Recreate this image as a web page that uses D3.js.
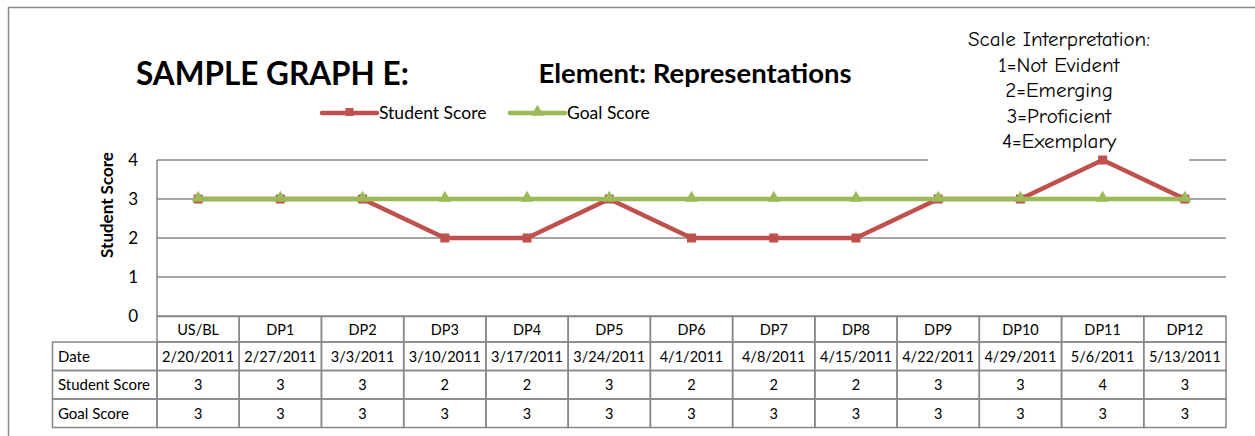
<!DOCTYPE html>
<html>
<head>
<meta charset="utf-8">
<script src="https://cdn.jsdelivr.net/npm/d3@7"></script>
<style>
  body { margin: 0; background: #fff; }
  svg { display: block; font-family: Lato, "Open Sans", sans-serif; }
</style>
</head>
<body>
<script>
// chart data
var categories = ["US/BL", "DP1", "DP2", "DP3", "DP4", "DP5", "DP6", "DP7", "DP8", "DP9", "DP10", "DP11", "DP12"];
var dates = ["2/20/2011", "2/27/2011", "3/3/2011", "3/10/2011", "3/17/2011", "3/24/2011", "4/1/2011",
             "4/8/2011", "4/15/2011", "4/22/2011", "4/29/2011", "5/6/2011", "5/13/2011"];
var studentScore = [3, 3, 3, 2, 2, 3, 2, 2, 2, 3, 3, 4, 3];
var goalScore = [3, 3, 3, 3, 3, 3, 3, 3, 3, 3, 3, 3, 3];
var yTicks = [0, 1, 2, 3, 4];
var scaleLines = ["Scale Interpretation:", "1=Not Evident", "2=Emerging", "3=Proficient", "4=Exemplary"];

var svgWidth = 1255, svgHeight = 436;
var red = "#C0504D", green = "#9BBB59", grid = "#878787";

var svg = d3.select("body").append("svg").attr("width", svgWidth).attr("height", svgHeight);

// outer frame (left + top edges only visible)
svg.append("path")
    .attr("d", "M8.5," + svgHeight + "V7.5H" + svgWidth)
    .attr("fill", "none").attr("stroke", "#8a8a8a").attr("stroke-width", 1.5);

// scales
var x = d3.scaleBand().domain(categories).range([157, 1226]);
var y = d3.scaleLinear().domain([0, 4]).range([316, 160]);

// gridlines
svg.append("g").selectAll("line")
    .data(yTicks)
  .enter().append("line")
    .attr("x1", 157).attr("x2", 1226)
    .attr("y1", function(d) { return y(d); })
    .attr("y2", function(d) { return y(d); })
    .attr("stroke", grid).attr("stroke-width", 1.5);

// y axis line
svg.append("line")
    .attr("x1", 157).attr("x2", 157).attr("y1", 160).attr("y2", 316)
    .attr("stroke", grid).attr("stroke-width", 1.5);

// y tick labels
var yAxis = d3.axisLeft(y).tickValues(yTicks).tickFormat(d3.format("d")).tickSize(0).tickPadding(19);
var yg = svg.append("g").attr("transform", "translate(157,0)").call(yAxis);
yg.select(".domain").remove();
yg.selectAll("text").attr("font-family", "Lato, sans-serif").attr("font-size", "17px").attr("fill", "#000");

// y axis title
svg.append("text")
    .attr("transform", "translate(113,205)rotate(-90)")
    .attr("text-anchor", "middle")
    .attr("font-size", "17px").attr("font-weight", "bold")
    .text("Student Score");

// scale interpretation box (sits over the top gridline)
svg.append("rect")
    .attr("x", 928).attr("y", 24).attr("width", 261).attr("height", 137)
    .attr("fill", "#fff");
svg.append("g").selectAll("text")
    .data(scaleLines)
  .enter().append("text")
    .attr("x", 1059)
    .attr("y", function(d, i) { return 46 + i * 25.5; })
    .attr("text-anchor", "middle")
    .attr("font-family", "'Comic Sans MS', 'Comic Neue', 'DejaVu Sans', sans-serif")
    .attr("font-size", "21px")
    .text(function(d) { return d; });

// series
var cx = function(d, i) { return x(categories[i]) + x.bandwidth() / 2; };
var line = d3.line().x(cx).y(function(d) { return y(d); });

svg.append("path").datum(studentScore)
    .attr("d", line).attr("fill", "none")
    .attr("stroke", red).attr("stroke-width", 4.5).attr("stroke-linejoin", "round");
svg.append("g").selectAll("rect")
    .data(studentScore)
  .enter().append("rect")
    .attr("x", function(d, i) { return cx(d, i) - 4.5; })
    .attr("y", function(d) { return y(d) - 4.5; })
    .attr("width", 9).attr("height", 9)
    .attr("fill", red);

svg.append("path").datum(goalScore)
    .attr("d", line).attr("fill", "none")
    .attr("stroke", green).attr("stroke-width", 4.5);
var tri = d3.symbol().type(d3.symbolTriangle).size(70);
svg.append("g").selectAll("path")
    .data(goalScore)
  .enter().append("path")
    .attr("d", tri)
    .attr("transform", function(d, i) { return "translate(" + cx(d, i) + "," + (y(d) - 1) + ")"; })
    .attr("fill", green);

// titles
svg.append("text")
    .attr("x", 136).attr("y", 85)
    .attr("font-size", "31.5px").attr("font-weight", "bold")
    .text("SAMPLE GRAPH E:");
svg.append("text")
    .attr("x", 695).attr("y", 83)
    .attr("text-anchor", "middle")
    .attr("font-size", "27.5px").attr("font-weight", "bold")
    .text("Element: Representations");

// legend
var legend = [
  {name: "Student Score", color: red, x0: 322, marker: "square"},
  {name: "Goal Score", color: green, x0: 510, marker: "triangle"}
];
var lg = svg.append("g").selectAll("g").data(legend).enter().append("g");
lg.append("line")
    .attr("x1", function(d) { return d.x0; })
    .attr("x2", function(d) { return d.x0 + 55; })
    .attr("y1", 113).attr("y2", 113)
    .attr("stroke", function(d) { return d.color; })
    .attr("stroke-width", 4.5).attr("stroke-linecap", "round");
lg.append("path")
    .attr("d", function(d) {
      return d.marker === "square" ? d3.symbol().type(d3.symbolSquare).size(64)() : tri();
    })
    .attr("transform", function(d) { return "translate(" + (d.x0 + 27.5) + ",112)"; })
    .attr("fill", function(d) { return d.color; });
lg.append("text")
    .attr("x", function(d) { return d.x0 + 57; })
    .attr("y", 119)
    .attr("font-size", "17.5px")
    .text(function(d) { return d.name; });

// data table
var rowTop = [316.5, 342, 370.5, 399, 427.5];
var rows = [
  {label: "", values: categories},
  {label: "Date", values: dates},
  {label: "Student Score", values: studentScore},
  {label: "Goal Score", values: goalScore}
];
var tbl = svg.append("g");
rows.forEach(function(r, ri) {
  var top = rowTop[ri], bot = rowTop[ri + 1];
  var mid = (top + bot) / 2;
  if (ri > 0) {
    tbl.append("rect")
        .attr("x", 52.5).attr("y", top).attr("width", 157 - 52.5).attr("height", bot - top)
        .attr("fill", "none").attr("stroke", grid).attr("stroke-width", 1.5);
    tbl.append("text")
        .attr("x", 58).attr("y", mid + 5.5)
        .attr("font-size", "15px")
        .text(r.label);
  }
  tbl.selectAll(null)
      .data(r.values)
    .enter().append("rect")
      .attr("x", function(d, i) { return x(categories[i]); })
      .attr("y", top)
      .attr("width", x.bandwidth()).attr("height", bot - top)
      .attr("fill", "none").attr("stroke", grid).attr("stroke-width", 1.5);
  tbl.selectAll(null)
      .data(r.values)
    .enter().append("text")
      .attr("x", function(d, i) { return x(categories[i]) + x.bandwidth() / 2; })
      .attr("y", mid + 5.5)
      .attr("text-anchor", "middle")
      .attr("font-size", "14.5px")
      .text(function(d) { return d; });
});
</script>
</body>
</html>
